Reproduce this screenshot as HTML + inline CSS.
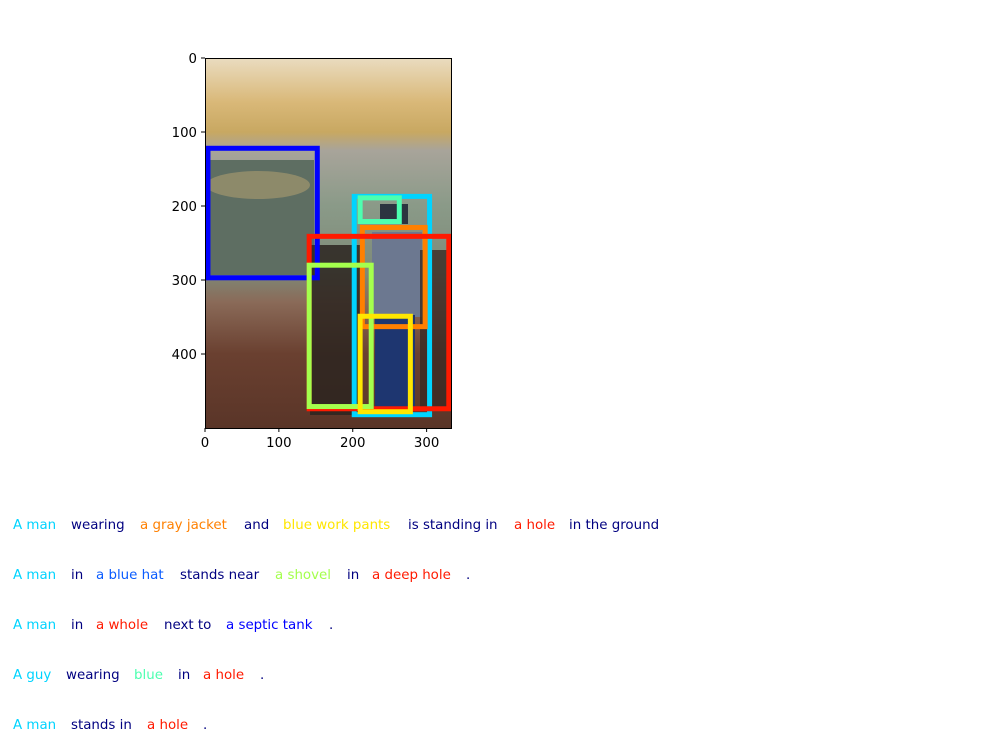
<!DOCTYPE html>
<html><head><meta charset="utf-8"><style>
body{margin:0;width:1000px;height:730px;background:#fff;overflow:hidden;position:relative;font-family:"DejaVu Sans","Liberation Sans",sans-serif}
.row{position:absolute;left:0;width:1000px;height:14px;overflow:hidden;font-size:13.4px;line-height:15px}
.row span{position:absolute;top:0;white-space:pre}
</style></head><body>
<svg id="chart" width="1000" height="500" style="position:absolute;left:0;top:0" font-family="DejaVu Sans, Liberation Sans, sans-serif" font-size="13.3">
<defs>
<linearGradient id="photo" x1="0" y1="0" x2="0" y2="1">
<stop offset="0" stop-color="#eadcc0"/><stop offset="0.12" stop-color="#d9b878"/><stop offset="0.2" stop-color="#c8a862"/>
<stop offset="0.25" stop-color="#a8a49a"/><stop offset="0.4" stop-color="#8a9a88"/><stop offset="0.58" stop-color="#7e8a78"/>
<stop offset="0.66" stop-color="#8a6a58"/><stop offset="0.8" stop-color="#6a4030"/><stop offset="1" stop-color="#5a3528"/>
</linearGradient>
</defs>
<g id="photo-layer">
<rect x="205" y="58" width="246" height="370" fill="url(#photo)"/>
<rect x="206" y="160" width="108" height="115" fill="#5e6e62"/>
<ellipse cx="258" cy="185" rx="52" ry="14" fill="#8d8a6a"/>
<rect x="310" y="245" width="50" height="170" fill="#2c2420" opacity="0.85"/>
<rect x="372" y="232" width="50" height="85" fill="#6c7890"/>
<rect x="375" y="315" width="40" height="95" fill="#1e3670"/>
<rect x="380" y="204" width="28" height="20" fill="#2c3440"/>
<rect x="420" y="250" width="28" height="160" fill="#3a2a24" opacity="0.8"/>
</g>
<g id="boxes"></g>
<rect x="205.5" y="58.5" width="246" height="370" fill="none" stroke="#000" stroke-width="1"/>
<g id="ticks"></g>
</svg>

<div class="row" style="top:518px">
<span style="left:13px;color:#00d4ff">A man</span><span style="left:71px;color:#000080">wearing</span><span style="left:140px;color:#ff8000">a gray jacket</span><span style="left:244px;color:#000080">and</span><span style="left:283px;color:#ffe600">blue work pants</span><span style="left:408px;color:#000080">is standing in</span><span style="left:514px;color:#ff1a00">a hole</span><span style="left:569px;color:#000080">in the ground</span></div>
<div class="row" style="top:568px">
<span style="left:13px;color:#00d4ff">A man</span><span style="left:71px;color:#000080">in</span><span style="left:96px;color:#0a5cff">a blue hat</span><span style="left:180px;color:#000080">stands near</span><span style="left:275px;color:#a4ff4d">a shovel</span><span style="left:347px;color:#000080">in</span><span style="left:372px;color:#ff1a00">a deep hole</span><span style="left:466px;color:#000080">.</span></div>
<div class="row" style="top:618px">
<span style="left:13px;color:#00d4ff">A man</span><span style="left:71px;color:#000080">in</span><span style="left:96px;color:#ff1a00">a whole</span><span style="left:164px;color:#000080">next to</span><span style="left:226px;color:#0000ff">a septic tank</span><span style="left:329px;color:#000080">.</span></div>
<div class="row" style="top:668px">
<span style="left:13px;color:#00d4ff">A guy</span><span style="left:66px;color:#000080">wearing</span><span style="left:134px;color:#4dffb0">blue</span><span style="left:178px;color:#000080">in</span><span style="left:203px;color:#ff1a00">a hole</span><span style="left:260px;color:#000080">.</span></div>
<div class="row" style="top:718px">
<span style="left:13px;color:#00d4ff">A man</span><span style="left:71px;color:#000080">stands in</span><span style="left:147px;color:#ff1a00">a hole</span><span style="left:203px;color:#000080">.</span></div>

<script>
const boxNames = ["septic-tank","man","hat","jacket","hole","shovel","pants"];
const boxX0 = [4, 202, 210, 213, 141, 141, 210];
const boxX1 = [152, 304, 263, 298, 330, 225, 278];
const boxY0 = [122, 187, 189, 229, 241, 280, 349];
const boxY1 = [297, 482, 221, 363, 474, 471, 478];
const boxColors = ["#0000ff","#00d4ff","#4dffb0","#ff8000","#ff1a00","#a4ff4d","#ffe600"];
const xTicks = [0,100,200,300];
const yTicks = [0,100,200,300,400];
const W = 333, H = 500;
const L = 205, T = 58, PW = 246, PH = 370;
const sx = v => L + v / W * PW;
const sy = v => T + v / H * PH;
const NS = "http://www.w3.org/2000/svg";
const gb = document.getElementById("boxes");
for (let i = 0; i < boxNames.length; i++) {
  const r = document.createElementNS(NS, "rect");
  r.setAttribute("x", sx(boxX0[i])); r.setAttribute("y", sy(boxY0[i]));
  r.setAttribute("width", sx(boxX1[i]) - sx(boxX0[i]));
  r.setAttribute("height", sy(boxY1[i]) - sy(boxY0[i]));
  r.setAttribute("fill", "none"); r.setAttribute("stroke", boxColors[i]); r.setAttribute("stroke-width", "5");
  
  
  gb.appendChild(r);
}
const gt = document.getElementById("ticks");
xTicks.forEach(v => {
  const x = sx(v);
  const l = document.createElementNS(NS, "line");
  l.setAttribute("x1", x); l.setAttribute("x2", x); l.setAttribute("y1", 428); l.setAttribute("y2", 432); l.setAttribute("stroke", "#000");
  
  
  gt.appendChild(l);
  const t = document.createElementNS(NS, "text");
  t.setAttribute("x", x); t.setAttribute("y", 447); t.setAttribute("text-anchor", "middle"); t.textContent = v;
  
  
  gt.appendChild(t);
});
yTicks.forEach(v => {
  const y = sy(v);
  const l = document.createElementNS(NS, "line");
  l.setAttribute("x1", 201); l.setAttribute("x2", 205); l.setAttribute("y1", y); l.setAttribute("y2", y); l.setAttribute("stroke", "#000");
  
  
  gt.appendChild(l);
  const t = document.createElementNS(NS, "text");
  t.setAttribute("x", 197); t.setAttribute("y", y + 5); t.setAttribute("text-anchor", "end"); t.textContent = v;
  
  
  gt.appendChild(t);
});
</script>
</body></html>
